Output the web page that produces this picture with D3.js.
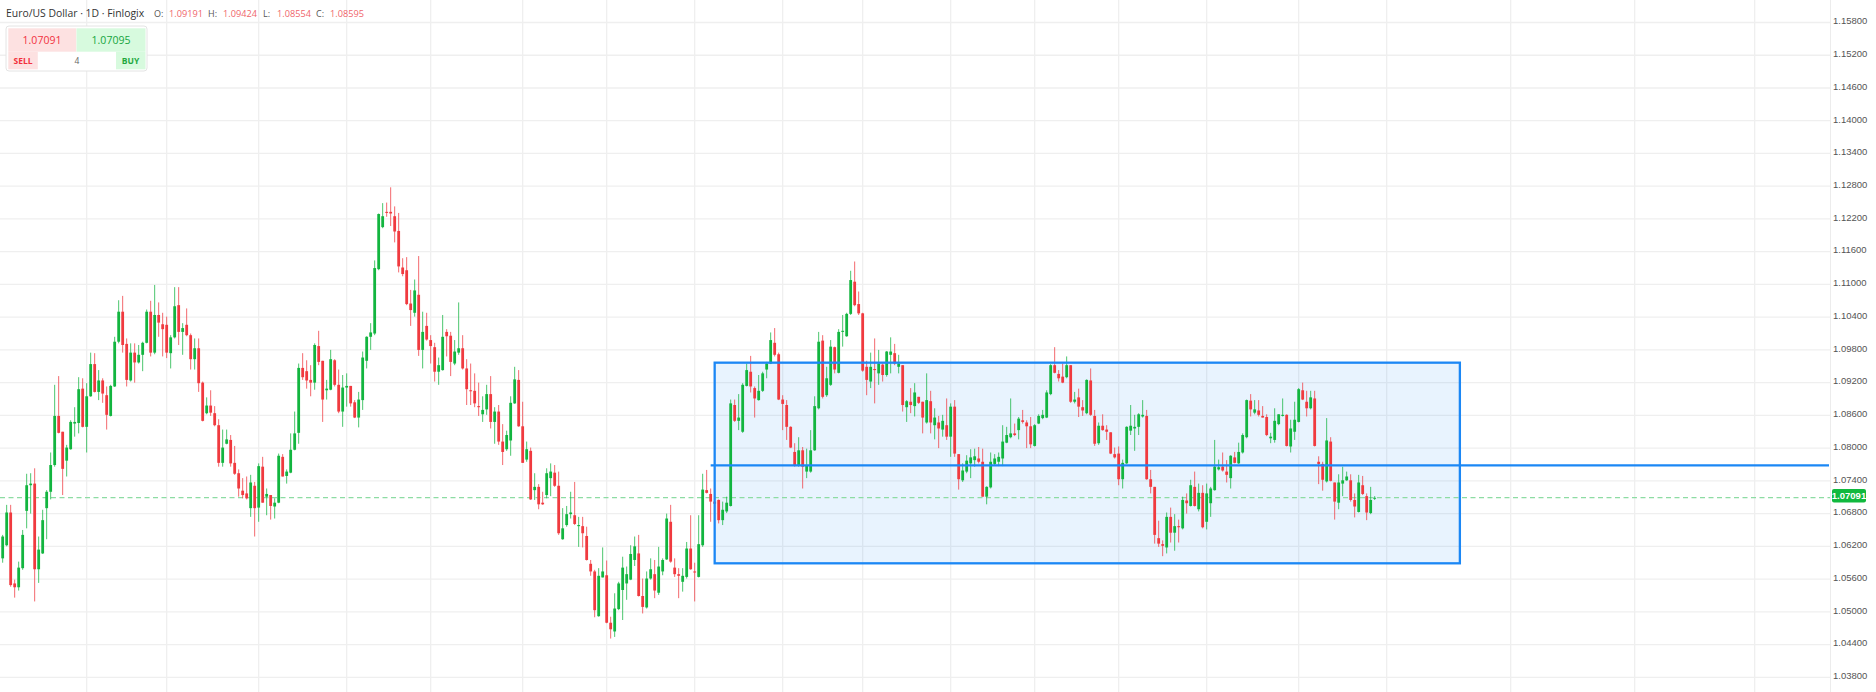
<!DOCTYPE html>
<html><head><meta charset="utf-8">
<script src="https://cdn.jsdelivr.net/npm/d3@7"></script>
<style>html,body{margin:0;padding:0;background:#fff;overflow:hidden}</style>
</head><body><svg id="chart" width="1876" height="692"></svg>
<script>
// ---- DATA ----
const opens=[1.0598,1.0622,1.0682,1.0552,1.0545,1.0580,1.0685,1.0732,1.0735,1.0578,1.0607,1.0690,1.0720,1.0769,1.0859,1.0830,1.0777,1.0798,1.0845,1.0846,
1.0909,1.0839,1.0895,1.0954,1.0903,1.0924,1.0897,1.0859,1.0913,1.0995,1.1050,1.0991,1.0924,1.0975,1.0957,1.0971,1.0993,1.1050,1.0975,1.1044,
1.1027,1.1026,1.0974,1.1003,1.1062,1.1013,1.1026,1.1007,1.0963,1.0983,1.0920,1.0864,1.0878,1.0864,1.0842,1.0773,1.0808,1.0815,1.0773,1.0754,
1.0722,1.0717,1.0690,1.0731,1.0691,1.0766,1.0711,1.0714,1.0693,1.0700,1.0784,1.0749,1.0755,1.0797,1.0828,1.0947,1.0941,1.0925,1.0920,1.0987,
1.0960,1.0906,1.0907,1.0961,1.0916,1.0867,1.0911,1.0914,1.0884,1.0856,1.0888,1.0960,1.1004,1.1010,1.1128,1.1205,1.1233,1.1233,1.1225,1.1198,
1.1131,1.1126,1.1065,1.1048,1.1081,1.0980,1.1024,1.0998,1.0985,1.0940,1.0943,1.1013,1.1006,1.0955,1.0975,1.0983,1.0946,1.0906,1.0905,1.0877,
1.0862,1.0871,1.0899,1.0848,1.0867,1.0812,1.0798,1.0814,1.0882,1.0925,1.0840,1.0779,1.0795,1.0723,1.0729,1.0700,1.0714,1.0745,1.0755,1.0731,
1.0633,1.0659,1.0679,1.0677,1.0657,1.0657,1.0639,1.0588,1.0574,1.0492,1.0563,1.0567,1.0480,1.0464,1.0505,1.0540,1.0552,1.0559,1.0595,1.0607,
1.0529,1.0508,1.0561,1.0569,1.0535,1.0574,1.0596,1.0665,1.0581,1.0569,1.0555,1.0564,1.0616,1.0574,1.0564,1.0622,1.0723,1.0716,1.0702,1.0705,
1.0668,1.0684,1.0694,1.0879,1.0850,1.0830,1.0914,1.0940,1.0910,1.0888,1.0905,1.0944,1.0955,1.0993,1.0972,1.0889,1.0879,1.0839,1.0793,1.0769,
1.0796,1.0757,1.0757,1.0796,1.0873,1.0997,1.0897,1.0916,1.0985,1.0938,1.1013,1.1005,1.1046,1.1105,1.1064,1.1047,1.0949,1.0922,1.0945,1.0937,
1.0953,1.0934,1.0971,1.0974,1.0949,1.0952,1.0875,1.0885,1.0877,1.0894,1.0885,1.0847,1.0886,1.0842,1.0847,1.0834,1.0842,1.0821,1.0876,1.0789,
1.0741,1.0757,1.0772,1.0778,1.0781,1.0775,1.0711,1.0728,1.0771,1.0775,1.0781,1.0810,1.0820,1.0827,1.0833,1.0851,1.0847,1.0840,1.0804,1.0845,
1.0855,1.0856,1.0899,1.0952,1.0936,1.0931,1.0930,1.0952,1.0885,1.0893,1.0875,1.0864,1.0924,1.0859,1.0809,1.0841,1.0834,1.0829,1.0789,1.0790,
1.0743,1.0772,1.0832,1.0836,1.0839,1.0858,1.0859,1.0743,1.0729,1.0635,1.0624,1.0618,1.0674,1.0645,1.0657,1.0653,1.0704,1.0694,1.0729,1.0688,
1.0718,1.0665,1.0699,1.0723,1.0761,1.0766,1.0757,1.0745,1.0783,1.0772,1.0792,1.0820,1.0887,1.0865,1.0869,1.0859,1.0857,1.0818,1.0815,1.0844,
1.0859,1.0861,1.0803,1.0830,1.0848,1.0906,1.0885,1.0873,1.0891,1.0775,1.0771,1.0739,1.0812,1.0737,1.0700,1.0735,1.0741,1.0741,1.0705,1.0683,
1.0732,1.0712,1.0681,1.0708];
const highs=[1.0641,1.0696,1.0696,1.0559,1.0592,1.0650,1.0753,1.0754,1.0763,1.0638,1.0687,1.0723,1.0792,1.0916,1.0932,1.0830,1.0806,1.0851,1.0875,1.0930,
1.0928,1.0919,1.0975,1.0974,1.0943,1.0928,1.0913,1.0916,1.1004,1.1071,1.1079,1.1001,1.0992,1.0992,1.0989,1.0995,1.1054,1.1070,1.1099,1.1067,
1.1048,1.1041,1.1007,1.1095,1.1095,1.1029,1.1056,1.1010,1.1001,1.1001,1.0922,1.0893,1.0906,1.0877,1.0853,1.0834,1.0834,1.0824,1.0804,1.0761,
1.0745,1.0748,1.0751,1.0738,1.0772,1.0784,1.0726,1.0714,1.0708,1.0790,1.0789,1.0761,1.0827,1.0867,1.0955,1.0974,1.0961,1.0952,1.0992,1.1015,
1.0960,1.0925,1.0980,1.0963,1.0944,1.0934,1.0937,1.0914,1.0888,1.0903,1.0977,1.1005,1.1029,1.1144,1.1230,1.1249,1.1250,1.1278,1.1243,1.1231,
1.1148,1.1150,1.1090,1.1109,1.1152,1.1050,1.1048,1.1007,1.0993,1.0966,1.1044,1.1018,1.1013,1.0998,1.1067,1.1007,1.0963,1.0955,1.0937,1.0920,
1.0895,1.0916,1.0932,1.0875,1.0879,1.0844,1.0832,1.0895,1.0949,1.0943,1.0885,1.0812,1.0801,1.0754,1.0734,1.0720,1.0763,1.0772,1.0769,1.0757,
1.0690,1.0694,1.0720,1.0738,1.0674,1.0674,1.0656,1.0595,1.0577,1.0580,1.0618,1.0594,1.0491,1.0534,1.0555,1.0601,1.0583,1.0622,1.0638,1.0641,
1.0561,1.0574,1.0598,1.0595,1.0619,1.0598,1.0680,1.0696,1.0598,1.0580,1.0580,1.0628,1.0677,1.0590,1.0677,1.0753,1.0760,1.0726,1.0712,1.0706,
1.0702,1.0711,1.0889,1.0889,1.0899,1.0919,1.0955,1.0969,1.0913,1.0934,1.0940,1.0958,1.1012,1.1020,1.0975,1.0897,1.0888,1.0840,1.0809,1.0820,
1.0802,1.0799,1.0833,1.0895,1.1013,1.1007,1.0949,1.0998,1.0986,1.1018,1.1044,1.1048,1.1125,1.1142,1.1087,1.1048,1.0960,1.0975,1.1001,1.0980,
1.0955,1.0978,1.1003,1.0991,1.0971,1.0952,1.0888,1.0910,1.0919,1.0894,1.0885,1.0937,1.0905,1.0873,1.0859,1.0861,1.0891,1.0882,1.0888,1.0789,
1.0772,1.0787,1.0798,1.0799,1.0802,1.0799,1.0730,1.0792,1.0789,1.0792,1.0842,1.0839,1.0891,1.0845,1.0857,1.0870,1.0851,1.0857,1.0844,1.0862,
1.0870,1.0906,1.0954,1.0985,1.0943,1.0955,1.0968,1.0952,1.0903,1.0909,1.0888,1.0926,1.0946,1.0870,1.0847,1.0862,1.0842,1.0829,1.0801,1.0803,
1.0779,1.0840,1.0879,1.0861,1.0864,1.0888,1.0870,1.0760,1.0729,1.0667,1.0631,1.0682,1.0691,1.0679,1.0669,1.0711,1.0717,1.0742,1.0757,1.0735,
1.0732,1.0735,1.0729,1.0815,1.0779,1.0792,1.0778,1.0787,1.0793,1.0810,1.0827,1.0889,1.0899,1.0888,1.0888,1.0877,1.0862,1.0828,1.0873,1.0862,
1.0891,1.0862,1.0852,1.0885,1.0910,1.0920,1.0905,1.0905,1.0905,1.0785,1.0775,1.0855,1.0820,1.0737,1.0752,1.0766,1.0757,1.0752,1.0717,1.0751,
1.0749,1.0717,1.0729,1.0712];
const lows=[1.0590,1.0620,1.0546,1.0526,1.0539,1.0577,1.0653,1.0680,1.0519,1.0553,1.0606,1.0633,1.0706,1.0766,1.0827,1.0714,1.0748,1.0797,1.0821,1.0827,
1.0838,1.0792,1.0894,1.0902,1.0888,1.0883,1.0834,1.0858,1.0912,1.0992,1.0975,1.0913,1.0922,1.0920,1.0955,1.0941,1.0992,1.0968,1.0972,1.1004,
1.0968,1.0965,1.0946,1.1001,1.0989,1.0971,1.1005,1.0944,1.0944,1.0903,1.0849,1.0862,1.0859,1.0840,1.0766,1.0766,1.0807,1.0766,1.0751,1.0711,
1.0708,1.0706,1.0674,1.0638,1.0665,1.0700,1.0677,1.0669,1.0671,1.0699,1.0748,1.0735,1.0754,1.0796,1.0808,1.0925,1.0909,1.0895,1.0907,1.0952,
1.0848,1.0889,1.0906,1.0913,1.0864,1.0839,1.0876,1.0876,1.0855,1.0838,1.0870,1.0946,1.0980,1.1007,1.1126,1.1203,1.1224,1.1207,1.1177,1.1122,
1.1115,1.1062,1.1024,1.1041,1.0969,1.0946,1.0997,1.0955,1.0922,1.0916,1.0942,1.0968,1.0932,1.0952,1.0971,1.0944,1.0879,1.0879,1.0875,1.0859,
1.0848,1.0861,1.0836,1.0808,1.0806,1.0769,1.0795,1.0786,1.0881,1.0839,1.0773,1.0775,1.0705,1.0705,1.0688,1.0696,1.0708,1.0712,1.0729,1.0641,
1.0632,1.0656,1.0671,1.0659,1.0619,1.0618,1.0594,1.0566,1.0490,1.0491,1.0563,1.0479,1.0451,1.0454,1.0503,1.0485,1.0522,1.0558,1.0584,1.0528,
1.0497,1.0506,1.0559,1.0525,1.0531,1.0567,1.0595,1.0590,1.0564,1.0525,1.0537,1.0561,1.0577,1.0519,1.0563,1.0619,1.0717,1.0665,1.0690,1.0662,
1.0659,1.0681,1.0693,1.0848,1.0833,1.0828,1.0913,1.0902,1.0856,1.0887,1.0903,1.0928,1.0954,1.0968,1.0888,1.0833,1.0815,1.0800,1.0766,1.0766,
1.0726,1.0745,1.0755,1.0795,1.0871,1.0891,1.0894,1.0914,1.0937,1.0937,1.0986,1.1004,1.1044,1.1060,1.1044,1.0940,1.0897,1.0910,1.0882,1.0916,
1.0922,1.0931,1.0937,1.0952,1.0937,1.0867,1.0848,1.0864,1.0858,1.0881,1.0827,1.0845,1.0827,1.0816,1.0800,1.0821,1.0815,1.0784,1.0784,1.0724,
1.0738,1.0754,1.0745,1.0766,1.0772,1.0711,1.0697,1.0726,1.0769,1.0767,1.0767,1.0809,1.0818,1.0822,1.0816,1.0845,1.0800,1.0800,1.0803,1.0844,
1.0853,1.0855,1.0897,1.0937,1.0922,1.0919,1.0928,1.0883,1.0882,1.0857,1.0859,1.0862,1.0859,1.0804,1.0806,1.0832,1.0815,1.0789,1.0781,1.0732,
1.0726,1.0771,1.0824,1.0795,1.0824,1.0856,1.0742,1.0717,1.0625,1.0619,1.0602,1.0607,1.0627,1.0612,1.0627,1.0651,1.0680,1.0693,1.0693,1.0684,
1.0653,1.0651,1.0674,1.0722,1.0759,1.0757,1.0737,1.0726,1.0772,1.0771,1.0790,1.0818,1.0858,1.0862,1.0858,1.0856,1.0822,1.0809,1.0810,1.0842,
1.0858,1.0803,1.0792,1.0815,1.0847,1.0888,1.0858,1.0871,1.0803,1.0734,1.0722,1.0737,1.0739,1.0669,1.0688,1.0712,1.0740,1.0702,1.0673,1.0682,
1.0714,1.0668,1.0679,1.0705];
const closes=[1.0638,1.0682,1.0549,1.0545,1.0581,1.0641,1.0732,1.0735,1.0578,1.0614,1.0668,1.0720,1.0769,1.0859,1.0828,1.0762,1.0801,1.0848,1.0848,1.0908,
1.0839,1.0895,1.0954,1.0903,1.0924,1.0900,1.0861,1.0914,1.0995,1.1050,1.0989,1.0925,1.0975,1.0957,1.0971,1.0993,1.1050,1.0975,1.1044,1.1030,
1.1018,1.0975,1.1003,1.1060,1.1013,1.1020,1.1007,1.0963,1.0983,1.0919,1.0850,1.0878,1.0865,1.0842,1.0773,1.0801,1.0816,1.0772,1.0753,1.0726,
1.0714,1.0708,1.0737,1.0690,1.0767,1.0700,1.0716,1.0694,1.0700,1.0786,1.0748,1.0757,1.0797,1.0827,1.0947,1.0930,1.0924,1.0920,1.0989,1.0958,
1.0889,1.0909,1.0963,1.0916,1.0867,1.0911,1.0914,1.0882,1.0856,1.0889,1.0966,1.1004,1.1012,1.1130,1.1229,1.1225,1.1231,1.1230,1.1197,1.1133,
1.1119,1.1064,1.1053,1.1089,1.0980,1.1013,1.0999,1.0987,1.0940,1.0952,1.1004,1.1005,1.0958,1.0977,1.0983,1.0946,1.0908,1.0905,1.0882,1.0875,
1.0870,1.0899,1.0848,1.0867,1.0812,1.0793,1.0824,1.0883,1.0926,1.0840,1.0773,1.0798,1.0706,1.0729,1.0697,1.0697,1.0754,1.0757,1.0731,1.0644,
1.0653,1.0679,1.0682,1.0661,1.0659,1.0644,1.0595,1.0574,1.0503,1.0566,1.0574,1.0480,1.0468,1.0506,1.0552,1.0581,1.0569,1.0606,1.0620,1.0529,
1.0509,1.0561,1.0578,1.0539,1.0583,1.0595,1.0671,1.0592,1.0569,1.0566,1.0566,1.0616,1.0578,1.0572,1.0624,1.0724,1.0718,1.0702,1.0698,1.0668,
1.0687,1.0700,1.0882,1.0850,1.0856,1.0916,1.0943,1.0913,1.0891,1.0905,1.0937,1.0955,1.0998,1.0971,1.0889,1.0881,1.0839,1.0801,1.0769,1.0796,
1.0766,1.0769,1.0796,1.0877,1.0995,1.0894,1.0928,1.0986,1.0944,1.1013,1.1015,1.1046,1.1108,1.1062,1.1047,1.0942,1.0925,1.0949,1.0943,1.0955,
1.0934,1.0977,1.0977,1.0955,1.0955,1.0879,1.0886,1.0879,1.0902,1.0883,1.0856,1.0888,1.0847,1.0856,1.0836,1.0850,1.0821,1.0876,1.0790,1.0743,
1.0759,1.0777,1.0783,1.0785,1.0775,1.0711,1.0729,1.0775,1.0781,1.0784,1.0812,1.0824,1.0827,1.0824,1.0854,1.0848,1.0840,1.0807,1.0842,1.0859,
1.0861,1.0902,1.0952,1.0938,1.0928,1.0920,1.0952,1.0885,1.0889,1.0876,1.0869,1.0925,1.0861,1.0808,1.0841,1.0833,1.0830,1.0790,1.0783,1.0743,
1.0773,1.0839,1.0841,1.0839,1.0862,1.0861,1.0743,1.0729,1.0641,1.0625,1.0621,1.0674,1.0645,1.0657,1.0655,1.0705,1.0699,1.0732,1.0694,1.0718,
1.0655,1.0717,1.0726,1.0766,1.0765,1.0759,1.0751,1.0786,1.0773,1.0793,1.0824,1.0888,1.0871,1.0871,1.0861,1.0856,1.0824,1.0821,1.0850,1.0862,
1.0861,1.0804,1.0836,1.0852,1.0908,1.0889,1.0873,1.0893,1.0804,1.0771,1.0742,1.0814,1.0740,1.0702,1.0737,1.0741,1.0748,1.0705,1.0693,1.0737,
1.0716,1.0682,1.0705,1.0709];
const priceTicks=[1.158,1.152,1.146,1.140,1.134,1.128,1.122,1.116,1.110,1.104,1.098,1.092,1.086,1.080,1.074,1.068,1.062,1.056,1.050,1.044,1.038];
const monthGridIdx=[22,42,65,87,108,131,152,174,196,216,238,259,280,302,325,347,378,409,439];
const lastPrice=1.07091;
const boxStartIdx=179, boxEndIdx=365.3, boxTop=1.09566, boxBottom=1.05889;
const levelPrice=1.07685, levelStartIdx=178;
const headerTitle="Euro/US Dollar · 1D · Finlogix";
const ohlcLabels=["O:","H:","L:","C:"];
const ohlcValues=["1.09191","1.09424","1.08554","1.08595"];
const sellPrice="1.07091", buyPrice="1.07095", lotSize="4";

// ---- DRAWING ----
const W=1876,H=692,plotRight=1830;
const svg=d3.select("#chart");
svg.append("rect").attr("width",W).attr("height",H).attr("fill","#fff");
const idx=d3.range(1,opens.length+1);
const x=d3.scaleLinear().domain([1,344]).range([2.67,1374.67]);
const y=d3.scaleLinear().domain([1.038,1.158]).range([677.3,22.5]);
const UP="#12b53f",DN="#f03a3f";

const plot=svg.append("g");
plot.append("clipPath").attr("id","pc").append("rect").attr("x",0).attr("y",0).attr("width",plotRight).attr("height",H);
const pg=plot.append("g").attr("clip-path","url(#pc)");

// grid
pg.selectAll(".hg").data(priceTicks).join("line")
 .attr("x1",0).attr("x2",plotRight).attr("y1",d=>y(d)).attr("y2",d=>y(d))
 .attr("stroke","#efefef").attr("stroke-width",1.3);
pg.selectAll(".vg").data(monthGridIdx).join("line")
 .attr("x1",d=>x(d)).attr("x2",d=>x(d)).attr("y1",0).attr("y2",H)
 .attr("stroke","#efefef").attr("stroke-width",1.3);

// box fill
pg.append("rect").attr("x",x(boxStartIdx)).attr("y",y(boxTop))
 .attr("width",x(boxEndIdx)-x(boxStartIdx)).attr("height",y(boxBottom)-y(boxTop))
 .attr("fill","rgba(33,140,245,0.10)");

// last price dashed line
pg.append("line").attr("x1",0).attr("x2",plotRight).attr("y1",y(lastPrice)).attr("y2",y(lastPrice))
 .attr("stroke","#8ddca3").attr("stroke-width",1.3).attr("stroke-dasharray","5,3.5");

// candles
const cg=pg.append("g");
cg.selectAll(".wick").data(idx).join("line")
 .attr("x1",i=>x(i)).attr("x2",i=>x(i))
 .attr("y1",i=>y(Math.max(highs[i-1],opens[i-1],closes[i-1])))
 .attr("y2",i=>y(Math.min(lows[i-1],opens[i-1],closes[i-1])))
 .attr("stroke",i=>closes[i-1]>=opens[i-1]?UP:DN).attr("stroke-width",1).attr("opacity",0.75);
cg.selectAll(".body").data(idx).join("rect")
 .attr("x",i=>x(i)-1.4).attr("width",2.8)
 .attr("y",i=>y(Math.max(opens[i-1],closes[i-1])))
 .attr("height",i=>Math.max(1,Math.abs(y(opens[i-1])-y(closes[i-1]))))
 .attr("fill",i=>closes[i-1]>=opens[i-1]?UP:DN);

// box stroke + level line
pg.append("rect").attr("x",x(boxStartIdx)).attr("y",y(boxTop))
 .attr("width",x(boxEndIdx)-x(boxStartIdx)).attr("height",y(boxBottom)-y(boxTop))
 .attr("fill","none").attr("stroke","#1b87f5").attr("stroke-width",2.3);
pg.append("line").attr("x1",x(levelStartIdx)).attr("x2",plotRight-1).attr("y1",y(levelPrice)).attr("y2",y(levelPrice))
 .attr("stroke","#1b87f5").attr("stroke-width",2.2);

// axis
svg.append("line").attr("x1",plotRight+0.5).attr("x2",plotRight+0.5).attr("y1",0).attr("y2",H).attr("stroke","#ececec");
svg.selectAll(".yl").data(priceTicks).join("text")
 .attr("x",plotRight+3).attr("y",d=>y(d)+1.8)
 .attr("font-family","Liberation Sans, Arial, sans-serif").attr("font-size",9.5).attr("fill","#555")
 .text(d=>d3.format(".5f")(d));
const ly=y(lastPrice)-2;
svg.append("rect").attr("x",plotRight+2).attr("y",ly-6.8).attr("width",34).attr("height",13.6).attr("rx",2).attr("fill","#10b93e");
svg.append("text").attr("x",plotRight+19).attr("y",ly+3.4).attr("text-anchor","middle")
 .attr("font-family","Liberation Sans, Arial, sans-serif").attr("font-size",9.5).attr("font-weight","bold").attr("fill","#fff")
 .text(d3.format(".5f")(lastPrice));

// header
const hdr=svg.append("g").attr("font-family","Open Sans, sans-serif");
hdr.append("text").attr("x",6).attr("y",17).attr("font-size",10.4).attr("fill","#333").text(headerTitle);
const lblX=[154,208,263,316], valX=[169,223,277,330];
ohlcLabels.forEach((l,k)=>{
  hdr.append("text").attr("x",lblX[k]).attr("y",17).attr("font-size",9).attr("fill","#555").text(l);
  hdr.append("text").attr("x",valX[k]).attr("y",17).attr("font-size",9.2).attr("fill","#f0656b").text(ohlcValues[k]);
});

// trade widget
const wg=svg.append("g").attr("font-family","Open Sans, sans-serif");
wg.append("rect").attr("x",6).attr("y",26).attr("width",141).attr("height",45).attr("rx",3)
 .attr("fill","#fff").attr("stroke","#e4e4e4").attr("stroke-width",1);
wg.append("rect").attr("x",8.3).attr("y",28.3).attr("width",68).attr("height",23.4).attr("fill","#fde1e1");
wg.append("rect").attr("x",76.5).attr("y",28.3).attr("width",69).attr("height",23.4).attr("fill","#d7fade");
wg.append("rect").attr("x",8.3).attr("y",51.7).attr("width",29.5).attr("height",17.6).attr("fill","#fde1e1");
wg.append("rect").attr("x",116).attr("y",51.7).attr("width",29.5).attr("height",17.6).attr("fill","#d7fade");
wg.append("text").attr("x",42).attr("y",44.3).attr("text-anchor","middle").attr("font-size",10.5).attr("fill","#f2323e").text(sellPrice);
wg.append("text").attr("x",111).attr("y",44.3).attr("text-anchor","middle").attr("font-size",10.5).attr("fill","#16a53d").text(buyPrice);
wg.append("text").attr("x",23).attr("y",64).attr("text-anchor","middle").attr("font-size",8.5).attr("font-weight","bold").attr("fill","#f2323e").text("SELL");
wg.append("text").attr("x",77).attr("y",64).attr("text-anchor","middle").attr("font-size",8.5).attr("fill","#666").text(lotSize);
wg.append("text").attr("x",130.5).attr("y",64).attr("text-anchor","middle").attr("font-size",8.5).attr("font-weight","bold").attr("fill","#1fa83e").text("BUY");
</script></body></html>
